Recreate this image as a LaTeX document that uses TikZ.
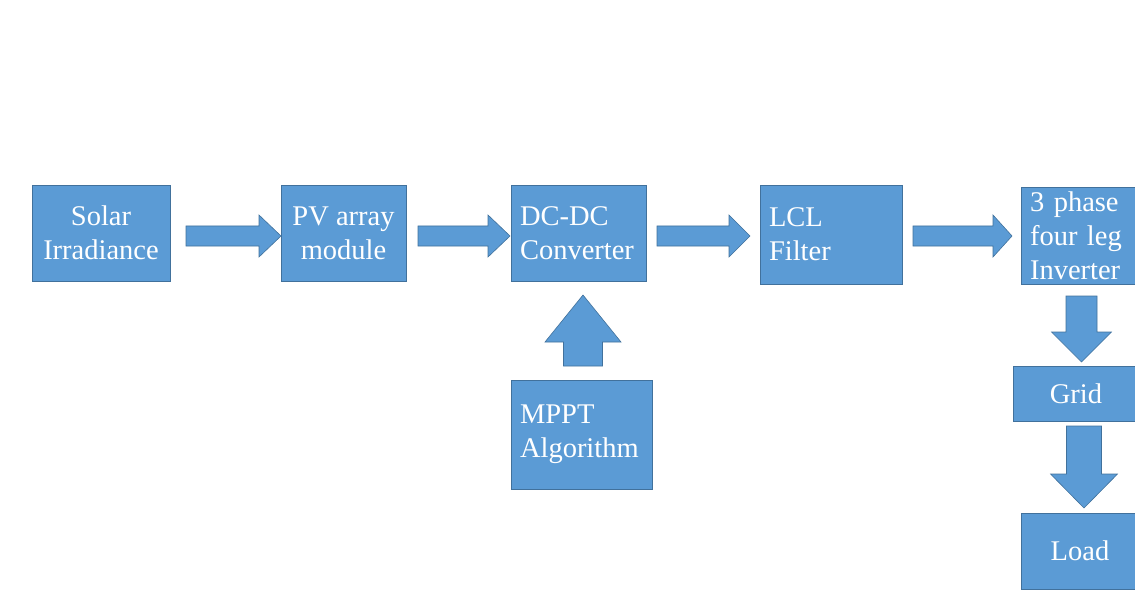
\documentclass[tikz,border=0pt]{standalone}
\usepackage{fontspec}
\setmainfont{Liberation Serif}
\usepackage{xcolor}
\definecolor{boxblue}{HTML}{5B9BD5}
\definecolor{edgeblue}{HTML}{41719C}

% horizontal block arrow: start x, head x, tip x, centre y
\newcommand{\harrow}[4]{%
  \draw[blockarrow] (#1,#4-10) -- (#2,#4-10) -- (#2,#4-21) -- (#3,#4)
    -- (#2,#4+21) -- (#2,#4+10) -- (#1,#4+10) -- cycle;}
% vertical block arrow: centre x, start y, head y, tip y, shaft half, head half
\newcommand{\varrow}[6]{%
  \draw[blockarrow] (#1-#5,#2) -- (#1-#5,#3) -- (#1-#6,#3) -- (#1,#4)
    -- (#1+#6,#3) -- (#1+#5,#3) -- (#1+#5,#2) -- cycle;}

\begin{document}
\begin{tikzpicture}[x=1pt, y=-1pt, line width=0.8pt,
    blk/.style={rectangle, draw=edgeblue, fill=boxblue, text=white, inner sep=9pt,
      font=\fontsize{28.5}{34}\selectfont},
    blockarrow/.style={draw=edgeblue, fill=boxblue, line width=0.6pt}]
  \useasboundingbox (0,0) rectangle (1135,604);
  \node[blk, minimum width=138pt, minimum height=96pt, align=center] (solar) at (101,233) {Solar\\Irradiance};
  \node[blk, minimum width=125pt, minimum height=96pt, align=center] (pv) at (343.5,233) {PV array\\module};
  \node[blk, minimum width=135pt, minimum height=96pt, text width=117pt, align=left] (dcdc) at (578.5,233) {DC-DC\\Converter};
  \node[blk, minimum width=142pt, minimum height=99pt, text width=124pt, align=left] (lcl) at (831,234.5) {LCL\\Filter};
  \node[blk, minimum width=118pt, minimum height=97pt, text width=100pt, align=left, inner ysep=0pt] (inv) at (1080,235.5) {3 phase\\four leg\\Inverter};
  \node[blk, minimum width=141pt, minimum height=109pt, text width=123pt, align=left] (mppt) at (581.5,434.5) {MPPT\\Algorithm};
  \node[blk, minimum width=126pt, minimum height=55pt, align=center] (grid) at (1076,393.5) {Grid};
  \node[blk, minimum width=118pt, minimum height=76pt, align=center] (load) at (1080,551) {Load};
  % arrows between blocks
  \harrow{186}{259}{281}{236}
  \harrow{418}{488}{510}{236}
  \harrow{657}{729}{750}{236}
  \harrow{913}{993}{1012}{236}
  \varrow{583}{366}{342}{295}{19.5}{38}
  \varrow{1081.5}{296}{332}{362}{15.5}{30}
  \varrow{1084}{426}{474}{508}{17.5}{33.5}
\end{tikzpicture}
\end{document}
